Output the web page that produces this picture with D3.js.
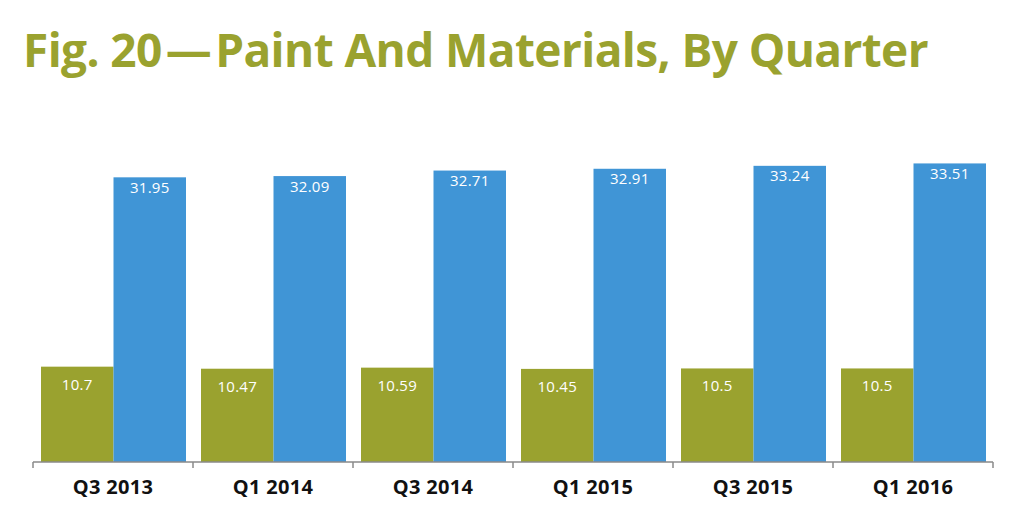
<!DOCTYPE html>
<html>
<head>
<meta charset="utf-8">
<script src="https://cdn.jsdelivr.net/npm/d3@7"></script>
<style>
  body { margin: 0; background: #fff; }
  svg { display: block; }
</style>
</head>
<body>
<div id="chart"></div>
<script>
var categories = ["Q3 2013", "Q1 2014", "Q3 2014", "Q1 2015", "Q3 2015", "Q1 2016"];
var seriesNames = ["green", "blue"];
var greenValues = [10.7, 10.47, 10.59, 10.45, 10.5, 10.5];
var blueValues = [31.95, 32.09, 32.71, 32.91, 33.24, 33.51];

var width = 1024,
    height = 530;

var colors = { green: "#9aa22f", blue: "#4095d6" };
// label offset below bar top, differs per series in the original
var labelOffset = { green: 23, blue: 15.5 };

var svg = d3.select("#chart")
    .append("svg")
    .attr("width", width)
    .attr("height", height);

svg.append("text")
    .attr("x", 23)
    .attr("y", 67)
    .attr("fill", "#9aa22f")
    .style("font-family", "'Open Sans', sans-serif")
    .style("font-weight", "bold")
    .style("font-size", "46px")
    .style("letter-spacing", "-0.6px")
    .text("Fig. 20\u200A\u2014\u200APaint And Materials, By Quarter");

var x = d3.scaleBand()
    .domain(categories)
    .range([33, 993]);

var xSub = d3.scaleBand()
    .domain(seriesNames)
    .range([8, x.bandwidth() - 7]);

var y = d3.scaleLinear()
    .domain([0, 40])
    .range([462, 105.6]);

var data = categories.map(function (c, i) {
    return { cat: c, values: [
        { key: "green", value: greenValues[i] },
        { key: "blue", value: blueValues[i] }
    ]};
});

var groups = svg.selectAll("g.group")
    .data(data)
    .enter()
    .append("g")
    .attr("class", "group")
    .attr("transform", function (d) { return "translate(" + x(d.cat) + ",0)"; });

groups.selectAll("rect")
    .data(function (d) { return d.values; })
    .enter()
    .append("rect")
    .attr("x", function (d) { return xSub(d.key); })
    .attr("width", xSub.bandwidth())
    .attr("y", function (d) { return y(d.value); })
    .attr("height", function (d) { return y(0) - y(d.value); })
    .attr("fill", function (d) { return colors[d.key]; });

groups.selectAll("text.val")
    .data(function (d) { return d.values; })
    .enter()
    .append("text")
    .attr("class", "val")
    .attr("x", function (d) { return xSub(d.key) + xSub.bandwidth() / 2; })
    .attr("y", function (d) { return y(d.value) + labelOffset[d.key]; })
    .attr("text-anchor", "middle")
    .attr("fill", "#fff")
    .style("font-family", "'Open Sans', sans-serif")
    .style("font-size", "15px")
    .style("letter-spacing", "0.3px")
    .text(function (d) { return d.value; });

// axis
var axis = svg.append("g")
    .attr("transform", "translate(0," + y(0) + ")");

axis.append("line")
    .attr("x1", 33)
    .attr("x2", 993)
    .attr("stroke", "#8a8a8a")
    .attr("stroke-width", 1.5);

var tickPos = categories.map(function (c) { return x(c); }).concat([x.range()[1]]);
axis.selectAll("line.tick")
    .data(tickPos)
    .enter()
    .append("line")
    .attr("class", "tick")
    .attr("x1", function (d) { return d; })
    .attr("x2", function (d) { return d; })
    .attr("y1", 0)
    .attr("y2", 6)
    .attr("stroke", "#8a8a8a")
    .attr("stroke-width", 1.5);

axis.selectAll("text.cat")
    .data(categories)
    .enter()
    .append("text")
    .attr("class", "cat")
    .attr("x", function (d) { return x(d) + x.bandwidth() / 2; })
    .attr("y", 32)
    .attr("text-anchor", "middle")
    .attr("fill", "#111")
    .style("font-family", "'Open Sans', sans-serif")
    .style("font-weight", "bold")
    .style("font-size", "20px")
    .style("letter-spacing", "0.3px")
    .text(function (d) { return d; });
</script>
</body>
</html>
